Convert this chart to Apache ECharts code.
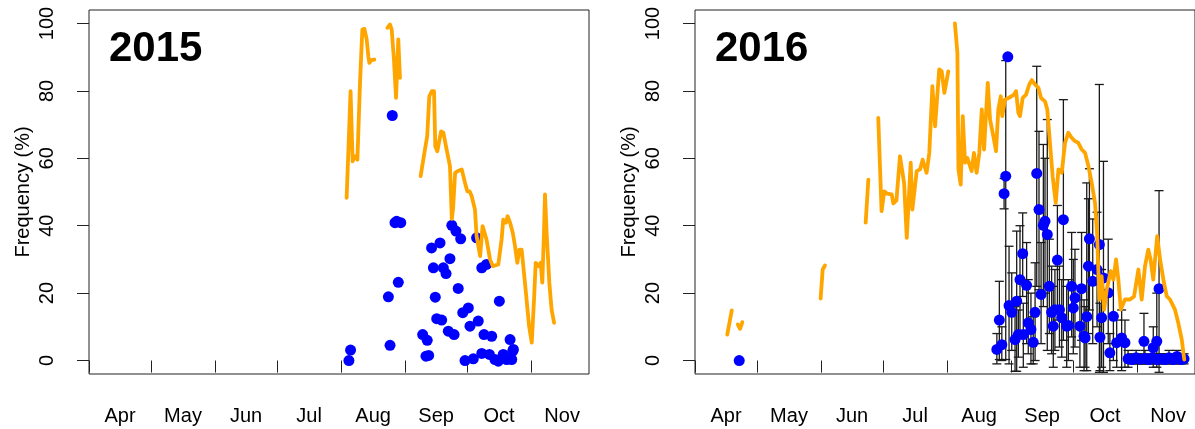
<!DOCTYPE html>
<html>
<head>
<meta charset="utf-8">
<script src="https://cdn.jsdelivr.net/npm/echarts@6/dist/echarts.min.js"></script>
<style>
html,body{margin:0;padding:0;background:#fff;}
#c{width:1195px;height:429px;}
</style>
</head>
<body>
<div id="c"></div>
<script>
// x values are days since 1 April of the season year
var monthNames = ['Apr','May','Jun','Jul','Aug','Sep','Oct','Nov'];
var monthStarts = [0, 30, 61, 91, 122, 153, 183, 214];
var monthMids = [15, 45.5, 76, 106.5, 137.5, 168, 198.5, 229];
var yTicks = [0, 20, 40, 60, 80, 100];
var panelTitles = ['2015', '2016'];

// orange line (null = gap)
var line2015 = [
 [124.7,48.3],[126.6,79.9],[127.6,59.1],[128.7,60.6],[129.9,59.6],[131.2,82.9],[132.3,98.2],[133.3,98.4],[134.4,95.3],[135.2,90.3],[135.7,88.3],[136.6,89.1],[138.1,89.3], null,
 [144.4,98.7],[145.7,99.7],[146.5,98.2],[147.6,89.3],[148.6,77.9],[149.7,95.3],[150.5,83.9], null,
 [160.5,54.7],[162.6,62.6],[163.7,66.6],[164.7,78.4],[165.9,79.9],[167.0,79.9],[167.6,63.6],[168.6,62.1],[170.4,68.0],[171.5,67.6],[173.1,62.6],[174.7,57.7],[175.6,42],[176.2,45],[177.2,55.7],[178.5,56.2],[180.4,56.7],[182,52.7],[183.1,50.2],[184.2,50.2],[185.2,48.8],[186.0,46.8],[186.8,44.8],[187.6,36.9],[189.3,31.0],[190.5,39.9],[191.2,40.4],[192.4,35.9],[194.1,30.0],[195.4,28.0],[198.1,28.5],[199.7,35.9],[200.5,41.8],[201.8,40.9],[202.6,42.8],[203.8,40.9],[205.1,37.9],[206.2,33.9],[207.3,29.0],[208.3,32.9],[209.4,32.9],[211.0,23.1],[213.0,10.2],[214.3,5.3],[215.4,18.1],[216.2,29.0],[217.5,28.0],[218.6,29.0],[219.4,23.1],[220.2,37.9],[220.7,49.3],[221.5,37.9],[222.8,23.1],[223.9,15.1],[225.1,11.2]
];
var line2016 = [
 [15.6,7.7],[17.8,14.9], null,
 [20.7,10.7],[21.8,9.4],[22.9,11.4], null,
 [60.8,18.4],[61.8,27.0],[62.9,28.2], null,
 [82.6,40.9],[83.9,53.7], null,
 [88.7,72.0],[90.3,44.3],[91.6,50.2],[93,49.5],[95.2,49.3],[96,46.6],[97.5,47.5],[99.2,60.6],[101.2,52.7],[102.5,36.4],[104.4,58.7],[105.2,44.8],[107.3,56.2],[108.9,56.7],[110.2,59.6],[111.3,57.2],[112.1,55.7],[113.4,61.6],[114.9,81.4],[116.2,69.5],[118.2,86.4],[119.4,85.8],[120.7,79.4],[122.6,85.8], null,
 [125.8,100],[127,91.3],[127.5,56.7],[128.6,52.2],[129.6,72.5],[130.7,58.7],[131.8,60.1],[133.9,56.2],[135,61.6],[136.3,55.7],[137.6,61.6],[138.8,74.5],[139.9,62.6],[141.7,82.4],[142.8,71.5],[144.4,66.6],[145.7,62.1],[146.8,74.5],[148,78.4],[148.7,72.5],[150,77.4],[151.7,77.9],[153.2,78.4],[154.4,78.9],[155.4,79.9],[156.5,73.5],[157.3,72.5],[158.6,77.9],[160.2,78.9],[161.8,81.9],[163,83.2],[164.6,81.9],[166.2,80.9],[167.5,77.9],[169.4,76.9],[170.5,74.5],[171.8,64.6],[173.1,54.7],[174.6,46.8],[175.9,56.7],[177.5,55.7],[179.1,64.6],[180.7,67.6],[182.3,66.1],[183.9,65.1],[185.5,64.6],[187.2,62.6],[188.8,61.6],[190.4,57.7],[192,52.7],[193.6,46.8],[194.6,37.9],[195.7,18.1],[196.8,25.0],[198,15.1],[199.3,21.1],[201.2,26.5],[202.5,24],[203.8,30.0],[204.9,24.0],[206.1,15.1],[208.1,18.1],[210.5,18.1],[212.5,19],[214.6,27.0],[216.2,18.1],[217.8,28.0],[219.4,32.9],[220.5,30],[221.8,24.0],[223.1,32.9],[223.7,36.9],[225.1,30.0],[226.7,24.0],[228.3,19.1],[229.9,18.1],[232.3,15.1],[233.9,11.2],[235.6,6.2],[236.8,0.3]
];

// blue points 2015: [day, value]
var points2015 = [
 [125.8,0.0],[126.6,3.1],[144.9,18.9],[145.7,4.5],[146.8,72.7],[148.1,40.9],[148.9,41.3],[149.7,23.2],[150.9,40.9],[161.5,7.7],[163.1,1.3],[163.7,6.0],[164.4,1.5],[165.8,33.4],[166.7,27.5],[167.6,18.8],[168.3,12.4],[169.9,34.9],[170.7,12.0],[171.5,27.5],[172.8,25.8],[173.9,8.7],[174.7,30.2],[175.6,40.1],[176.7,7.7],[177.6,38.4],[178.7,21.4],[179.9,36.1],[180.9,14.2],[182.0,0.0],[183.6,15.6],[184.4,10.2],[186.0,0.5],[187.6,36.4],[188.4,11.7],[190.1,27.5],[190.1,2.1],[191.2,7.7],[192.4,28.5],[193.8,1.8],[194.9,7.2],[196.5,0.3],[198.1,-0.2],[198.6,17.6],[200.5,1.8],[202.2,0.3],[203.8,6.2],[204.6,0.3],[205.1,2.8],[205.4,3.3]
];

// blue points 2016 with error bars: [day, value, low, high]
var points2016 = [
 [21.4,0,0,0],
 [146.1,3.3,-1,8],[147.3,12.0,0.3,23.5],[148.5,4.7,0,10],[149.6,49.5,45,54],[150.4,54.7,0.3,89],[151.4,90.1,90.1,90.1],
 [152,16.3,-1,33.9],[153.3,14.3,3,26],[154.9,6.2,-3.2,16],[155.7,17.6,-3.2,38.4],[156.5,7.7,1,15],[157.3,24.0,8,40],
 [158.6,31.7,19,43.8],[158.9,7.7,-2,17],[160.5,22.3,5,35],[161.3,11.2,2,24],[162.6,9.2,-1,20],[163.7,5.4,-1,13],
 [164.6,14.3,0,29],[165.4,55.5,22,87.3],[166.5,44.8,21,68],[167.5,19.6,5,35],[168.6,40.1,16,64.1],[169.4,41.3,20,60],
 [170.5,37.4,3,71.5],[171.5,22.0,8,36],[172.6,14.3,2,28],[173.4,10.2,-2,22],[174.2,15.1,3,27],[175.4,29.8,12,46],
 [176.4,15.1,4,28],[177.5,12.7,1,24],[178.3,41.8,6,77.4],[179.9,10.2,-2,22],[180.7,10.4,0,24],[182.3,22.0,7,38],
 [183.1,15.6,2,30],[183.9,18.6,4,33],[186.3,10.2,-2,22],[187.1,21.3,6,38],[188.3,7.2,-3,18],[188.8,6.7,-2,16],
 [189.6,13.0,-3,52.7],[190.4,28.0,8,48],[190.9,36.1,15,56.9],[192.5,23.5,5,42],[194.6,27.0,10,44],[195.7,34.4,-3.5,81.9],
 [196,6.9,-3,17],[196.8,12.7,-2,27],[197.7,24.5,-3.5,59.1],[200,20.1,5,36],[200.8,2.3,-3,8],[202.5,13.1,0,26],
 [204.1,5.3,-2,12],[206.5,6.7,-3,15],[208.1,5.3,-2,12],[209.6,0.5,-2,3],[211.5,0.3,-1,2],[213.5,0.8,-1,3],
 [215.4,0.4,-1,2],[217.3,5.7,-1,14],[217.8,0.6,-1,3],[219.7,0.3,-1,2],[221.2,0.8,-1,3],[221.8,3.8,-2,10],
 [223.5,5.7,-2,20],[223.7,0.3,-1,2],[224.6,21.3,-3.5,50.4],[225.6,0.5,-1,2],[227.5,0.3,-1,2],[229.4,0.8,-1,3],
 [231.4,0.3,-1,2],[233.3,1.2,-1,3],[235.2,0.3,-1,2],[236.7,0.5,-1,2]
];

var FONT = '"Liberation Sans", Arial, Helvetica, sans-serif';
var chart = echarts.init(document.getElementById('c'), null, {renderer: 'canvas'});

function xAxisFor(i) {
  return {
    type: 'value', gridIndex: i, min: 0, max: 242,
    axisLine: {show: false},
    splitLine: {show: false},
    axisTick: {show: true, customValues: monthStarts, length: 12, lineStyle: {color: '#222', width: 1}},
    axisLabel: {
      customValues: monthMids, margin: 32, color: '#000', fontSize: 20, fontFamily: FONT,
      formatter: function (v) { var k = monthMids.indexOf(v); return k >= 0 ? monthNames[k] : ''; }
    }
  };
}
function yAxisFor(i) {
  return {
    type: 'value', gridIndex: i, min: -4, max: 104,
    name: 'Frequency (%)', nameLocation: 'middle', nameGap: 56,
    nameTextStyle: {fontSize: 20, fontFamily: FONT, color: '#000'},
    axisLine: {show: false},
    splitLine: {show: false},
    axisTick: {show: true, customValues: yTicks, length: 12, lineStyle: {color: '#222', width: 1}},
    axisLabel: {customValues: yTicks, rotate: 90, margin: 32, color: '#000', fontSize: 20, fontFamily: FONT}
  };
}

function errorBarItem(params, api) {
  var x = api.value(0), lo = api.value(2), hi = api.value(3);
  if (hi - lo < 0.01) return null;
  var p1 = api.coord([x, lo]), p2 = api.coord([x, hi]);
  var w = 4.5;
  var st = {stroke: '#1a1a1a', lineWidth: 1.3};
  return {
    type: 'group',
    children: [
      {type: 'line', shape: {x1: p1[0], y1: p1[1], x2: p2[0], y2: p2[1]}, style: st},
      {type: 'line', shape: {x1: p1[0] - w, y1: p1[1], x2: p1[0] + w, y2: p1[1]}, style: st},
      {type: 'line', shape: {x1: p2[0] - w, y1: p2[1], x2: p2[0] + w, y2: p2[1]}, style: st}
    ]
  };
}

var ORANGE = '#FFA500', BLUE = '#0000FF';

chart.setOption({
  animation: false,
  backgroundColor: '#fff',
  textStyle: {fontFamily: FONT},
  grid: [
    {left: 89, top: 10, width: 500, height: 364, show: true, borderColor: '#222', borderWidth: 1, backgroundColor: 'transparent'},
    {left: 695, top: 10, width: 500, height: 364, show: true, borderColor: '#222', borderWidth: 1, backgroundColor: 'transparent'}
  ],
  xAxis: [xAxisFor(0), xAxisFor(1)],
  yAxis: [yAxisFor(0), yAxisFor(1)],
  graphic: [
    {type: 'text', left: 109, top: 28, style: {text: panelTitles[0], font: 'bold 42px ' + FONT, fill: '#000'}},
    {type: 'text', left: 715, top: 28, style: {text: panelTitles[1], font: 'bold 42px ' + FONT, fill: '#000'}}
  ],
  series: [
    {type: 'scatter', xAxisIndex: 0, yAxisIndex: 0, data: points2015, symbolSize: 11,
     itemStyle: {color: BLUE, opacity: 1}, z: 3},
    {type: 'line', xAxisIndex: 0, yAxisIndex: 0, data: line2015, showSymbol: false, connectNulls: false,
     lineStyle: {color: ORANGE, width: 3.8, cap: 'round', join: 'round'}, z: 4},
    {type: 'custom', xAxisIndex: 1, yAxisIndex: 1, data: points2016, renderItem: errorBarItem,
     encode: {x: 0, y: [1, 2, 3]}, z: 2},
    {type: 'scatter', xAxisIndex: 1, yAxisIndex: 1, data: points2016.map(function (p) { return [p[0], p[1]]; }),
     symbolSize: 11, itemStyle: {color: BLUE, opacity: 1}, z: 3},
    {type: 'line', xAxisIndex: 1, yAxisIndex: 1, data: line2016, showSymbol: false, connectNulls: false,
     lineStyle: {color: ORANGE, width: 3.8, cap: 'round', join: 'round'}, z: 4}
  ]
});
</script>
</body>
</html>
